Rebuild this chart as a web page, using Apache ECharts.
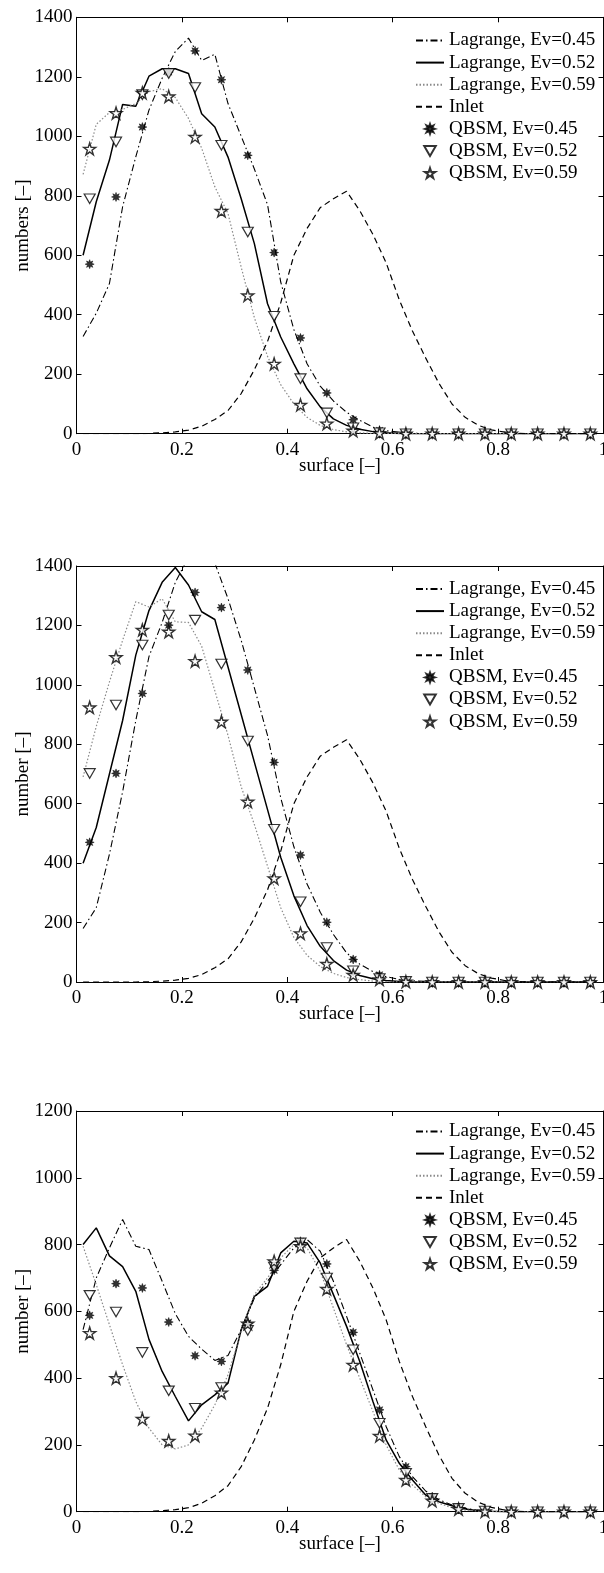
<!DOCTYPE html>
<html>
<head>
<meta charset="utf-8">
<script src="https://cdn.jsdelivr.net/npm/echarts@6/dist/echarts.min.js"></script>
<style>
html, body { margin: 0; padding: 0; background: #fff; }
#chart { width: 604px; height: 1573px; }
</style>
</head>
<body>
<div id="chart"></div>
<script>
// Surface bin centres of the Lagrange histograms (fine bins) and QBSM bins (coarse bins)
const surfaceLine = [0.0125,0.0375,0.0625,0.0875,0.1125,0.1375,0.1625,0.1875,0.2125,0.2375,
  0.2625,0.2875,0.3125,0.3375,0.3625,0.3875,0.4125,0.4375,0.4625,0.4875,
  0.5125,0.5375,0.5625,0.5875,0.6125,0.6375,0.6625,0.6875,0.7125,0.7375,
  0.7625,0.7875,0.8125,0.8375,0.8625,0.8875,0.9125,0.9375,0.9625,0.9875];
const surfaceQbsm = [0.025,0.075,0.125,0.175,0.225,0.275,0.325,0.375,0.425,0.475,
  0.525,0.575,0.625,0.675,0.725,0.775,0.825,0.875,0.925,0.975];

// Inlet distribution (identical in all three panels)
const inlet = [0,0,0,0,0,1,3,6,12,25,48,78,135,215,310,440,600,690,760,790,
  815,750,670,575,450,345,255,170,100,55,28,13,5,1,0,0,0,0,0,0];

// Panel 1
const lag045P1 = [327,405,505,763,931,1088,1195,1285,1330,1255,1276,1110,1000,890,770,510,350,235,160,110,
  72,45,22,10,5,2,0,0,0,0,0,0,0,0,0,0,0,0,0,0];
const lag052P1 = [600,780,920,1107,1101,1202,1227,1227,1211,1076,1031,930,790,639,437,325,235,151,90,50,
  28,15,7,3,1,0,0,0,0,0,0,0,0,0,0,0,0,0,0,0];
const lag059P1 = [872,1040,1080,1090,1110,1150,1160,1130,1060,960,830,740,560,390,260,165,100,55,28,14,
  6,3,1,0,0,0,0,0,0,0,0,0,0,0,0,0,0,0,0,0];
const qbsm045P1 = [570,796,1031,1216,1287,1190,936,609,322,137,47,11,2,0,0,0,0,0,0,0];
const qbsm052P1 = [790,981,1140,1211,1164,970,678,395,185,70,20,3,0,0,0,0,0,0,0,0];
const qbsm059P1 = [958,1078,1146,1134,998,749,465,235,97,34,10,2,0,0,0,0,0,0,0,0];

// Panel 2
const lag045P2 = [180,250,430,640,880,1095,1210,1345,1430,1450,1410,1290,1150,990,830,620,455,330,235,160,
  98,60,35,18,9,4,2,0,0,0,0,0,0,0,0,0,0,0,0,0];
const lag052P2 = [400,520,700,880,1100,1250,1345,1395,1336,1246,1220,1060,900,740,580,420,290,190,120,72,
  40,22,11,5,2,0,0,0,0,0,0,0,0,0,0,0,0,0,0,0];
const lag059P2 = [690,860,1010,1150,1280,1262,1290,1212,1210,1130,980,830,657,530,390,250,150,90,52,29,
  15,8,3,1,0,0,0,0,0,0,0,0,0,0,0,0,0,0,0,0];
const qbsm045P2 = [470,702,971,1201,1311,1260,1050,739,427,201,76,24,5,0,0,0,0,0,0,0];
const qbsm052P2 = [702,932,1134,1235,1218,1070,811,514,270,116,38,12,2,0,0,0,0,0,0,0];
const qbsm059P2 = [924,1093,1185,1179,1080,876,607,349,164,61,24,9,1,0,0,0,0,0,0,0];

// Panel 3
const lag045P3 = [545,700,790,875,795,785,690,593,525,487,453,468,545,640,690,740,790,815,780,690,
  585,475,365,255,165,105,62,36,20,10,4,1,0,0,0,0,0,0,0,0];
const lag052P3 = [800,850,766,734,660,516,420,345,272,320,350,385,545,645,675,775,810,805,745,650,
  555,450,330,215,145,95,50,30,18,8,3,1,0,0,0,0,0,0,0,0];
const lag059P3 = [795,680,560,440,330,250,200,188,200,250,320,410,540,650,700,760,800,790,720,610,
  500,400,300,200,125,80,45,25,12,5,2,0,0,0,0,0,0,0,0,0];
const qbsm045P3 = [588,683,670,568,467,450,565,723,810,742,537,305,135,45,13,2,0,0,0,0];
const qbsm052P3 = [648,598,477,362,310,372,543,733,805,700,485,265,115,40,10,2,0,0,0,0];
const qbsm059P3 = [535,400,278,212,228,357,563,750,795,667,440,227,95,33,8,1,0,0,0,0];

// Axis settings per panel
const yAxisMax = [1400, 1400, 1200];
const yAxisTitles = ['numbers [\u2013]', 'number [\u2013]', 'number [\u2013]'];
const xAxisTitle = 'surface [\u2013]';
const seriesNames = ['Lagrange, Ev=0.45', 'Lagrange, Ev=0.52', 'Lagrange, Ev=0.59', 'Inlet',
  'QBSM, Ev=0.45', 'QBSM, Ev=0.52', 'QBSM, Ev=0.59'];

const panels = [
  { lag: [lag045P1, lag052P1, lag059P1], qbsm: [qbsm045P1, qbsm052P1, qbsm059P1] },
  { lag: [lag045P2, lag052P2, lag059P2], qbsm: [qbsm045P2, qbsm052P2, qbsm059P2] },
  { lag: [lag045P3, lag052P3, lag059P3], qbsm: [qbsm045P3, qbsm052P3, qbsm059P3] }
];

// Layout of the three stacked plots (pixels)
const gridBoxes = [
  { top: 17.3, height: 416.4 },
  { top: 566, height: 416 },
  { top: 1111, height: 400.7 }
];
const legendTops = [30.5, 579, 1121.5];

const FONT = 'Liberation Serif, Times New Roman, serif';
const black = '#000';

// Marker shapes
const asteriskPath = 'path://M20,10 L14.6,11.9 L17.07,17.07 L11.9,14.6 L10,20 L8.1,14.6 L2.93,17.07 L5.4,11.9 L0,10 L5.4,8.1 L2.93,2.93 L8.1,5.4 L10,0 L11.9,5.4 L17.07,2.93 L14.6,8.1 Z';
const triangleDownPath = 'path://M0,0 L20,0 L10,17.3 Z';
const starPath = 'path://M10,0 L12.25,6.91 L19.51,6.91 L13.63,11.18 L15.88,18.09 L10,13.82 L4.12,18.09 L6.37,11.18 L0.49,6.91 L7.75,6.91 Z';

const lineStyles = [
  { color: black, width: 1.1, type: [7, 3, 1.5, 3] },
  { color: black, width: 1.5, type: 'solid' },
  { color: '#8a8a8a', width: 1.2, type: [1.5, 2] }
];
const inletStyle = { color: black, width: 1.2, type: [6, 4] };
const markerDefs = [
  { symbol: asteriskPath, size: 9, itemStyle: { color: black, borderColor: black, borderWidth: 0.6 } },
  { symbol: triangleDownPath, size: [11, 9.5], itemStyle: { color: '#fff', borderColor: black, borderWidth: 1.2 } },
  { symbol: starPath, size: 12, itemStyle: { color: '#fff', borderColor: black, borderWidth: 1.4 } }
];

function zip(xs, ys) { return xs.map((x, i) => [x, ys[i]]); }

// Line entries show only their stroke in the legend
const legendData = seriesNames.map((n, k) => (k < 4 ? { name: n, itemStyle: { opacity: 0 } } : { name: n }));

const grids = [], xAxes = [], yAxes = [], legends = [], series = [];

gridBoxes.forEach((g, i) => {
  grids.push({ left: 76.5, width: 527, top: g.top, height: g.height, containLabel: false, outerBoundsMode: 'none' });

  const tickStyle = { show: true, inside: true, length: 5, lineStyle: { color: black, width: 1 } };
  const lineAx = { show: true, onZero: false, lineStyle: { color: black, width: 1 } };

  xAxes.push({
    gridIndex: i, type: 'value', position: 'bottom', min: 0, max: 1, interval: 0.2,
    axisLine: lineAx, axisTick: tickStyle, splitLine: { show: false },
    axisLabel: { color: black, fontFamily: FONT, fontSize: 19, margin: 7, showMaxLabel: true, showMinLabel: true },
    name: xAxisTitle, nameLocation: 'middle', nameGap: 23, nameMoveOverlap: false,
    nameTextStyle: { color: black, fontFamily: FONT, fontSize: 19 }
  });
  xAxes.push({
    gridIndex: i, type: 'value', position: 'top', min: 0, max: 1, interval: 0.2,
    axisLine: lineAx, axisTick: tickStyle, splitLine: { show: false }, axisLabel: { show: false }
  });
  yAxes.push({
    gridIndex: i, type: 'value', position: 'left', min: 0, max: yAxisMax[i], interval: 200,
    axisLine: lineAx, axisTick: tickStyle, splitLine: { show: false },
    axisLabel: { color: black, fontFamily: FONT, fontSize: 19, margin: 4, formatter: v => String(v) },
    name: yAxisTitles[i], nameLocation: 'middle', nameGap: 44, nameRotate: 90, nameMoveOverlap: false,
    nameTextStyle: { color: black, fontFamily: FONT, fontSize: 19 }
  });
  yAxes.push({
    gridIndex: i, type: 'value', position: 'right', min: 0, max: yAxisMax[i], interval: 200,
    axisLine: lineAx, axisTick: tickStyle, splitLine: { show: false }, axisLabel: { show: false }
  });

  legends.push({
    orient: 'vertical', left: 415, top: legendTops[i], padding: 0,
    itemWidth: 28, itemHeight: 10, itemGap: 2.1, selectedMode: false,
    textStyle: { color: black, fontFamily: FONT, fontSize: 19, lineHeight: 20 },
    data: legendData
  });

  const xi = 2 * i, yi = 2 * i;
  const p = panels[i];
  // Lagrange curves
  p.lag.forEach((vals, k) => {
    series.push({
      type: 'line', name: seriesNames[k], xAxisIndex: xi, yAxisIndex: yi,
      data: zip(surfaceLine, vals), symbol: 'none', lineStyle: lineStyles[k],
      itemStyle: { color: lineStyles[k].color }, z: 2
    });
  });
  // Inlet
  series.push({
    type: 'line', name: seriesNames[3], xAxisIndex: xi, yAxisIndex: yi,
    data: zip(surfaceLine, inlet), symbol: 'none', lineStyle: inletStyle,
    itemStyle: { color: black }, z: 2
  });
  // QBSM markers
  p.qbsm.forEach((vals, k) => {
    const m = markerDefs[k];
    series.push({
      type: 'scatter', name: seriesNames[4 + k], xAxisIndex: xi, yAxisIndex: yi,
      data: zip(surfaceQbsm, vals), symbol: m.symbol, symbolSize: m.size,
      itemStyle: m.itemStyle, clip: false, z: 3
    });
  });
});

const chart = echarts.init(document.getElementById('chart'), null, { renderer: 'canvas' });
chart.setOption({
  animation: false,
  backgroundColor: '#fff',
  grid: grids,
  xAxis: xAxes,
  yAxis: yAxes,
  legend: legends,
  series: series
});
</script>
</body>
</html>
